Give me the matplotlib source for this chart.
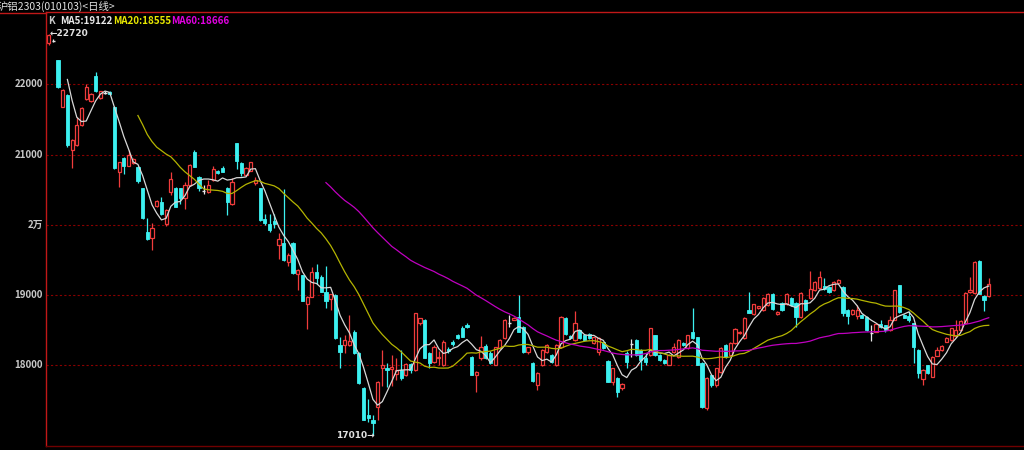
import numpy as np
import pandas as pd
import matplotlib.pyplot as plt

plt.rcParams['font.family'] = ['Noto Sans CJK SC', 'DejaVu Sans']

# daily bars, first one partly hidden behind the left axis
opens = [22585, 22615, 22346, 21681, 21848, 21066, 21137, 21421, 21791, 21767,
         22122, 21800, 21880, 21886, 21681, 20749, 20948, 20838, 20877, 20829,
         20525, 19904, 19810, 20270, 20322, 20009, 20464, 20530, 20521, 20387,
         20568, 21042, 20686, 20480, 20472, 20639, 20767, 20815, 20521, 20290,
         21161, 20877, 20710, 20771, 20592, 20521, 20080, 20010, 20050, 19715,
         19740, 19477, 19740, 19302, 19280, 18876, 18980, 19335, 19264, 19050,
         18943, 19004, 18291, 18293, 18293, 18480, 18175, 17677, 17300, 17226,
         17415, 17960, 17960, 17955, 17880, 17940, 17866, 18017, 17937, 18600,
         18648, 18175, 18045, 18100, 18000, 18240, 18340, 18435, 18540, 18580,
         18125, 17866, 18100, 18280, 18180, 18010, 18250, 18390, 18600, 18650,
         18690, 18550, 18190, 18040, 17720, 18010, 18190, 18150, 18010, 18260,
         18680, 18420, 18360, 18500, 18430, 18450, 18320, 18190, 18330, 18060,
         17770, 17820, 17680, 18180, 18300, 18360, 18220, 18100, 18150, 18430,
         18150, 18080, 18010, 18190, 18120, 18320, 18250, 18480, 18400, 18040,
         17400, 17860, 17720, 17910, 18290, 18150, 18320, 18460, 18390, 18790,
         18730, 18820, 18790, 18860, 19020, 18730, 18890, 18870, 18960, 18890,
         18690, 18930, 18960, 19070, 19100, 19130, 19120, 19070, 19170, 19120,
         18790, 18730, 18700, 18720, 18690, 18460, 18480, 18590, 18570, 18500,
         18650, 19140, 18720, 18700, 18600, 18220, 17810, 18000, 17840, 18140,
         18220, 18340, 18360, 18420, 18500, 18600, 19040, 19030, 19490, 18990,
         18990]
highs = [22720, 22640, 22350, 21930, 21860, 21220, 21540, 21680, 22000, 21880,
         22180, 21910, 21900, 21910, 21690, 20900, 20960, 21066, 20950, 20840,
         20530, 20100, 20020, 20360, 20400, 20220, 20757, 20540, 20530, 20610,
         20870, 21060, 20700, 20560, 20640, 20830, 20780, 20830, 20540, 20660,
         21170, 20890, 20820, 20900, 20680, 20530, 20155, 20160, 20150, 19880,
         20510, 19600, 19750, 19370, 19290, 18990, 19400, 19440, 19280, 19415,
         19020, 19010, 18410, 18440, 18720, 18500, 18190, 17690, 17530, 17300,
         17780, 18220, 18040, 18150, 18110, 18220, 18030, 18030, 18750, 18680,
         18660, 18190, 18290, 18200, 18360, 18270, 18360, 18450, 18560, 18610,
         18140, 17920, 18420, 18300, 18200, 18270, 18370, 18660, 18720, 18690,
         19000, 18560, 18270, 18050, 17910, 18230, 18300, 18160, 18300, 18700,
         18690, 18430, 18780, 18510, 18450, 18460, 18410, 18400, 18340, 18080,
         17970, 17830, 17750, 18200, 18380, 18370, 18230, 18180, 18540, 18440,
         18160, 18090, 18160, 18320, 18370, 18330, 18440, 18820, 18410, 18050,
         17830, 17870, 17970, 18260, 18300, 18330, 18530, 18490, 18690, 19040,
         18880, 18850, 18970, 19030, 19030, 18770, 18900, 19030, 18970, 18900,
         19040, 18940, 19340, 19200, 19340, 19250, 19130, 19200, 19230, 19130,
         18800, 18800, 18860, 18730, 18700, 18580, 18600, 18640, 18580, 18700,
         19080, 19150, 18730, 18780, 18610, 18230, 17950, 18010, 18130, 18270,
         18290, 18400, 18540, 18650, 18640, 19040, 19260, 19480, 19500, 19000,
         19250]
lows = [22560, 22600, 21940, 21670, 21110, 20810, 21120, 21400, 21770, 21740,
        21895, 21790, 21860, 21850, 20800, 20545, 20720, 20830, 20870, 20600,
        20090, 19790, 19640, 20250, 20140, 19990, 20420, 20250, 20300, 20220,
        20550, 20820, 20480, 20440, 20460, 20620, 20720, 20750, 20141, 20280,
        20795, 20700, 20700, 20760, 20560, 20060, 20000, 19900, 19950, 19516,
        19480, 19420, 19300, 19075, 18910, 18525, 18970, 19160, 19040, 18815,
        18790, 18380, 17970, 18180, 18280, 18160, 17740, 17220, 17200, 17010,
        17226, 17715, 17700, 17710, 17800, 17800, 17850, 17900, 17920, 18580,
        18100, 17960, 18030, 18000, 17990, 18180, 18280, 18380, 18400, 18530,
        17860, 17630, 18080, 18090, 18020, 18000, 18240, 18380, 18550, 18640,
        18470, 18180, 18160, 17770, 17650, 17990, 18180, 18040, 17990, 18250,
        18440, 18380, 18350, 18380, 18350, 18380, 18300, 18150, 18240, 17760,
        17720, 17550, 17650, 17960, 18120, 18140, 17940, 18000, 18140, 18140,
        18060, 18020, 18000, 18180, 18110, 18280, 18240, 18380, 18000, 17400,
        17370, 17700, 17700, 17900, 18110, 18140, 18310, 18450, 18380, 18740,
        18720, 18810, 18780, 18850, 18790, 18720, 18780, 18860, 18850, 18550,
        18680, 18780, 18950, 19060, 19090, 19080, 19030, 19060, 19160, 18700,
        18590, 18720, 18660, 18670, 18490, 18350, 18470, 18540, 18480, 18490,
        18640, 18750, 18670, 18620, 18040, 17820, 17720, 17880, 17830, 18130,
        18210, 18330, 18350, 18410, 18490, 18590, 19030, 19020, 19010, 18770,
        18980]
closes = [22700, 22615, 21966, 21919, 21137, 21208, 21421, 21659, 21957, 21862,
          21909, 21905, 21880, 21862, 20805, 20895, 20842, 20995, 20938, 20629,
          20103, 19796, 19961, 20341, 20151, 20213, 20654, 20260, 20379, 20568,
          20853, 20828, 20530, 20480, 20568, 20795, 20735, 20757, 20331, 20615,
          20914, 20743, 20805, 20890, 20640, 20070, 20023, 19928, 20010, 19796,
          19500, 19573, 19313, 19359, 18922, 18980, 19330, 19240, 19050, 18922,
          19015, 18390, 18196, 18364, 18350, 18175, 17750, 17226, 17250, 17185,
          17770, 18000, 17930, 17985, 17940, 17820, 18017, 17937, 18742, 18670,
          18103, 18033, 18270, 18120, 18330, 18200, 18300, 18390, 18410, 18545,
          17870, 17910, 18270, 18105, 18040, 18260, 18360, 18650, 18600, 18680,
          18480, 18190, 18260, 17780, 17900, 18220, 18290, 18050, 18290, 18690,
          18450, 18390, 18600, 18390, 18360, 18390, 18400, 18390, 18250, 17770,
          17960, 17620, 17740, 18050, 18300, 18150, 18080, 18050, 18530, 18150,
          18080, 18040, 18150, 18260, 18360, 18290, 18430, 18390, 18010, 17410,
          17820, 17720, 17960, 18250, 18120, 18320, 18520, 18480, 18680, 18750,
          18870, 18840, 18960, 19020, 18800, 18760, 18790, 19020, 18860, 18690,
          19030, 18790, 19090, 19190, 19260, 19090, 19040, 19190, 19220, 18750,
          18700, 18790, 18790, 18680, 18500, 18460, 18590, 18550, 18500, 18650,
          19070, 18760, 18680, 18650, 18260, 17900, 17940, 17890, 18120, 18220,
          18280, 18390, 18530, 18500, 18630, 19030, 19070, 19470, 19020, 18930,
          19160]

y_ticks = [22000, 21000, 20000, 19000, 18000]
y_tick_labels = ['22000', '21000', '2万', '19000', '18000']

o = np.array(opens, dtype=float)
h = np.array(highs, dtype=float)
l = np.array(lows, dtype=float)
c = np.array(closes, dtype=float)
x = np.arange(len(c)) - 1
ma = {n: pd.Series(c).rolling(n).mean().values for n in (5, 20, 60)}

RED = '#f03c3c'
CYAN = '#3cf0f0'
W, H = 1024, 450

fig = plt.figure(figsize=(W / 100, H / 100), dpi=100, facecolor='black')
ax = fig.add_axes([46 / W, 4 / H, (W - 46) / W, 434 / H], facecolor='black')
ax.set_xlim(-1.553, 206.5)
ax.set_ylim(16855, 23027)

for v in y_ticks:
    ax.axhline(v, color='#8a0000', lw=0.8, ls=(0, (2, 2)), zorder=0)

up = c > o
down = c < o
flat = c == o
bw = 0.68

# wicks
ax.vlines(x[up], l[up], h[up], color=RED, lw=0.9, zorder=1)
ax.vlines(x[down], l[down], h[down], color=CYAN, lw=0.9, zorder=1)
ax.vlines(x[flat], l[flat], h[flat], color='#e8e8e8', lw=0.9, zorder=1)
# bodies
ax.bar(x[up], c[up] - o[up], bottom=o[up], width=bw, facecolor='black',
       edgecolor=RED, lw=0.9, zorder=2)
ax.bar(x[down], o[down] - c[down], bottom=c[down], width=bw, facecolor=CYAN,
       edgecolor=CYAN, lw=0.6, zorder=2)
ax.hlines(c[flat], x[flat] - bw / 2, x[flat] + bw / 2, color='#e8e8e8', lw=1.0, zorder=2)

ax.plot(x, ma[5], color='#d8d8d8', lw=0.9, zorder=3)
ax.plot(x, ma[20], color='#b4b400', lw=0.9, zorder=3)
ax.plot(x, ma[60], color='#c000c0', lw=0.9, zorder=3)

# extreme markers
ih = int(np.argmax(h))
il = int(np.argmin(l))
ax.text(x[ih] + 0.3, h[ih], '←' + str(int(h[ih])), color='#e0e0e0', fontsize=6.5,
        ha='left', va='center', fontweight='bold', family=['DejaVu Sans'], zorder=5)
ax.text(x[il] + 0.3, l[il], str(int(l[il])) + '→', color='#e0e0e0', fontsize=6.5,
        ha='right', va='center', fontweight='bold', family=['DejaVu Sans'], zorder=5)

ax.spines['right'].set_visible(False)
ax.spines['left'].set_color('#c01818')
ax.spines['top'].set_color('#c01818')
ax.spines['bottom'].set_color('#700000')
for s in ax.spines.values():
    s.set_linewidth(1.0)
ax.set_xticks([])
ax.set_yticks([])

for v, lab in zip(y_ticks, y_tick_labels):
    ax.text(-0.003, v, lab, transform=ax.get_yaxis_transform(), ha='right', va='center',
            color='#c8c8c8', fontsize=7, fontweight='bold')

fig.add_artist(plt.Line2D([0, 46 / W], [1 - 12.5 / H, 1 - 12.5 / H], color='#c01818', lw=1.0))

fig.text(-2 / W, 1 - 6 / H, '沪铝2303(010103)<日线>', color='#e0e0e0', fontsize=7.5,
         ha='left', va='center')
ty = 1 - 21 / H
fig.text(48 / W, ty, 'K', color='#c8c8c8', fontsize=7, va='center', fontweight='bold')
fig.text(60 / W, ty, 'MA5:19122', color='#e8e8e8', fontsize=7, va='center', fontweight='bold')
fig.text(113 / W, ty, 'MA20:18555', color='#e8e800', fontsize=7, va='center', fontweight='bold')
fig.text(171 / W, ty, 'MA60:18666', color='#e000e0', fontsize=7, va='center', fontweight='bold')

fig.savefig('out.png', dpi=100, facecolor='black')
